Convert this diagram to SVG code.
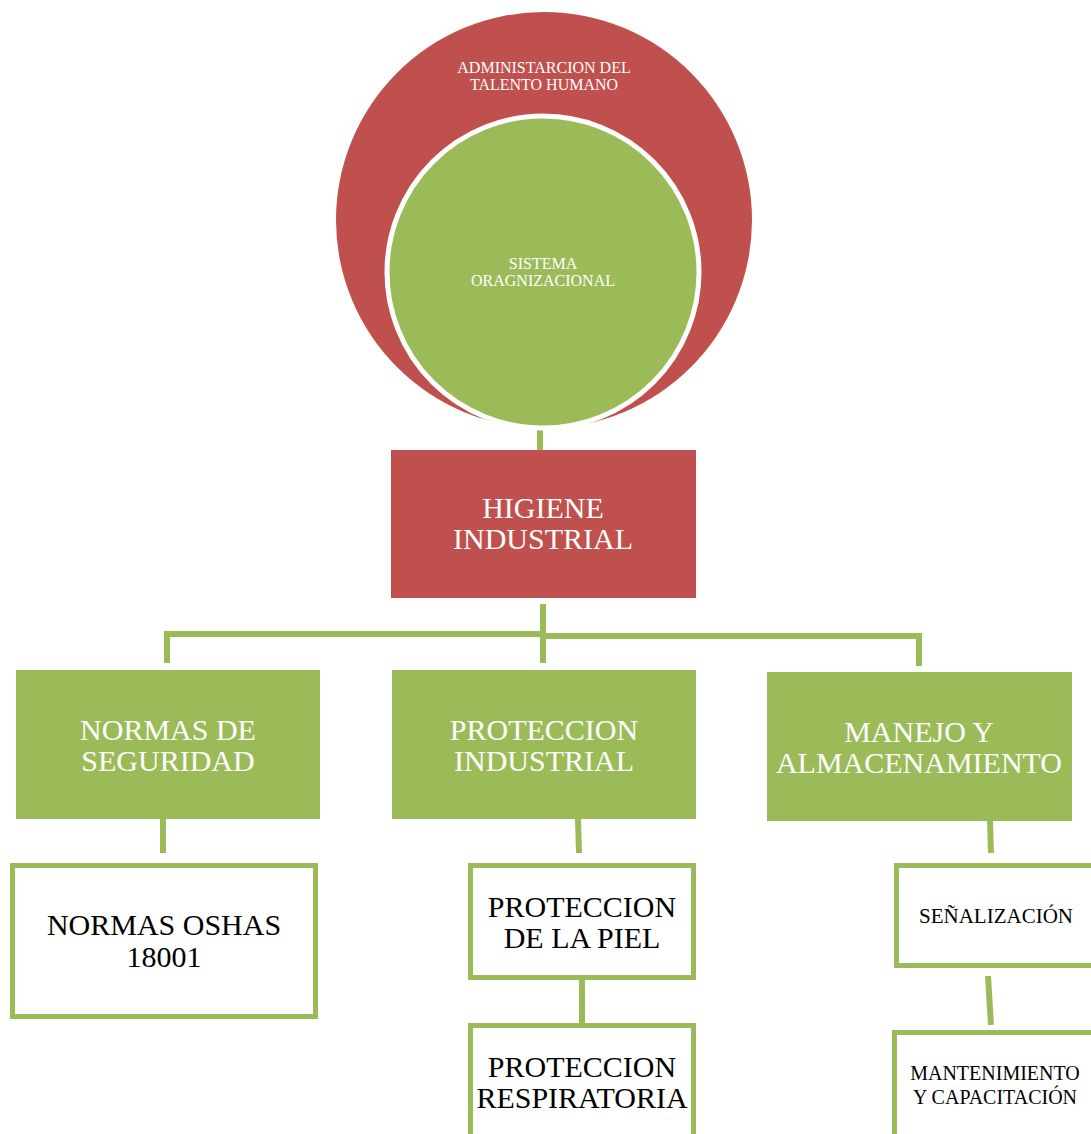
<svg xmlns="http://www.w3.org/2000/svg" width="1091" height="1134" viewBox="0 0 1091 1134">
<style>
.red{fill:#C0504D}
.grn{fill:#9BBB59}
.box{fill:#FFFFFF;stroke:#9BBB59;stroke-width:5}
.ln{stroke:#9BBB59;stroke-width:6;fill:none}
text{font-family:"Liberation Serif","Times New Roman",serif;text-anchor:middle}
.w{fill:#FFFFFF}
.k{fill:#000000}
.f30{font-size:30px}
.f21{font-size:21px}
.f20{font-size:20px}
.f16{font-size:16px}
</style>
<rect width="1091" height="1134" fill="#FFFFFF"/>
<g id="connectors">
<line class="ln" x1="540" y1="420" x2="540" y2="456"/>
<line class="ln" x1="543" y1="604" x2="543" y2="663"/>
<polyline class="ln" points="167,663 167,634 543,634"/>
<polyline class="ln" points="543,636 919,636 919,666"/>
<line class="ln" x1="163" y1="819" x2="163" y2="853"/>
<line class="ln" x1="578" y1="819" x2="579" y2="853"/>
<line class="ln" x1="990" y1="821" x2="991" y2="853"/>
<line class="ln" x1="582" y1="979" x2="582" y2="1023"/>
<line class="ln" x1="988" y1="976" x2="991" y2="1025"/>
</g>
<g id="admin">
<circle class="red" cx="544" cy="220" r="208"/>
<text class="w f16" x="544" y="73">ADMINISTARCION DEL</text>
<text class="w f16" x="544" y="90">TALENTO HUMANO</text>
</g>
<g id="sistema">
<circle class="grn" cx="543" cy="272" r="156" stroke="#FFFFFF" stroke-width="5"/>
<text class="w f16" x="543" y="269">SISTEMA</text>
<text class="w f16" x="543" y="286">ORAGNIZACIONAL</text>
</g>
<g id="higiene">
<rect class="red" x="391" y="450" width="305" height="148"/>
<text class="w f30" x="543" y="518">HIGIENE</text>
<text class="w f30" x="543" y="549">INDUSTRIAL</text>
</g>
<g id="normas">
<rect class="grn" x="16" y="670" width="304" height="149"/>
<text class="w f30" x="168" y="740">NORMAS DE</text>
<text class="w f30" x="168" y="771">SEGURIDAD</text>
</g>
<g id="proteccion">
<rect class="grn" x="392" y="670" width="304" height="149"/>
<text class="w f30" x="544" y="740">PROTECCION</text>
<text class="w f30" x="544" y="771">INDUSTRIAL</text>
</g>
<g id="manejo">
<rect class="grn" x="767" y="672" width="305" height="149"/>
<text class="w f30" x="919" y="742">MANEJO Y</text>
<text class="w f30" x="919" y="773">ALMACENAMIENTO</text>
</g>
<g id="oshas">
<rect class="box" x="12.5" y="865.5" width="303" height="151"/>
<text class="k f30" x="164" y="935">NORMAS OSHAS</text>
<text class="k f30" x="164" y="967">18001</text>
</g>
<g id="piel">
<rect class="box" x="470.5" y="865.5" width="223" height="112"/>
<text class="k f30" x="582" y="917">PROTECCION</text>
<text class="k f30" x="582" y="948">DE LA PIEL</text>
</g>
<g id="respiratoria">
<rect class="box" x="470.5" y="1025.5" width="223" height="130"/>
<text class="k f30" x="582" y="1077">PROTECCION</text>
<text class="k f30" x="582" y="1108">RESPIRATORIA</text>
</g>
<g id="senalizacion">
<rect class="box" x="896.5" y="865.5" width="220" height="100"/>
<text class="k f21" x="996" y="923">SEÑALIZACIÓN</text>
</g>
<g id="mantenimiento">
<rect class="box" x="894.5" y="1032.5" width="220" height="130"/>
<text class="k f20" x="995" y="1080">MANTENIMIENTO</text>
<text class="k f20" x="995" y="1104">Y CAPACITACIÓN</text>
</g>
</svg>
